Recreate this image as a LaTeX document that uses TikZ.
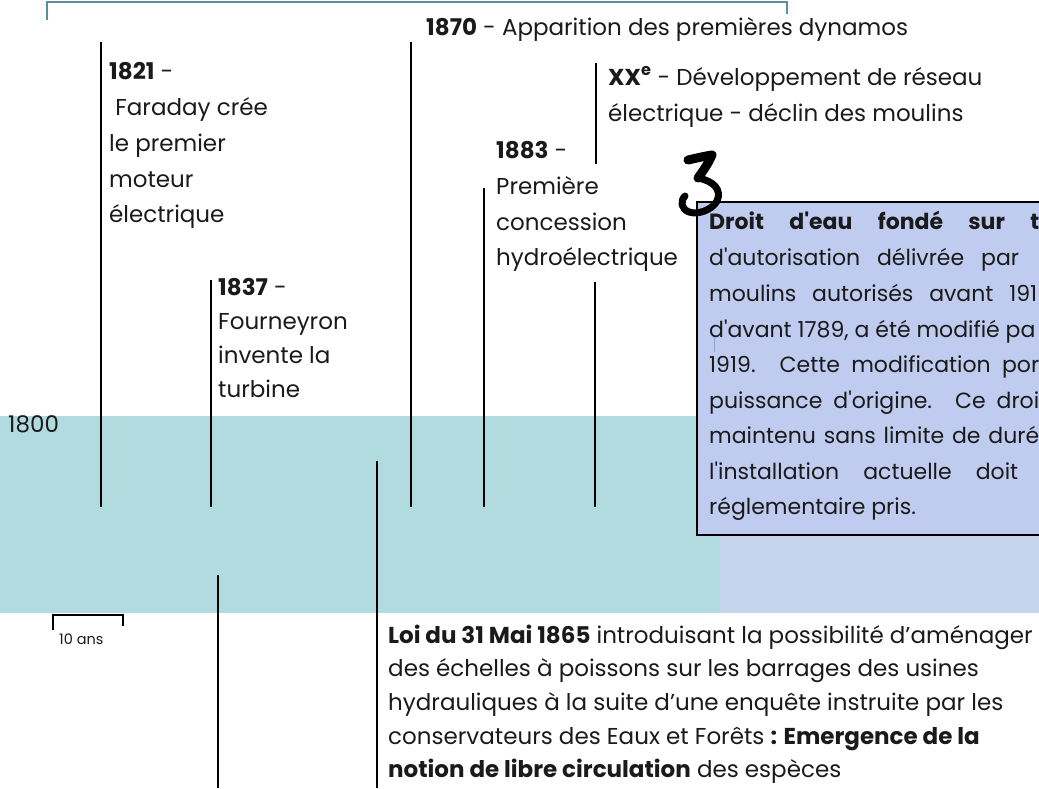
\documentclass[tikz,border=0pt]{standalone}
\usepackage{fontspec}
\setmainfont{Poppins}
\definecolor{band}{HTML}{B2DBDF}
\definecolor{bandr}{HTML}{C4D4EA}
\definecolor{boxfill}{HTML}{BFCBEF}
\definecolor{brk}{HTML}{5B8E9B}
\definecolor{ink}{HTML}{1A1A1A}
\definecolor{cursor}{HTML}{8FA0E0}
\newcommand{\ap}{\textquotesingle}
\begin{document}
\begin{tikzpicture}[x=1pt,y=-1pt,
  txt/.style={anchor=base west, inner sep=0pt, font=\fontsize{23}{27}\selectfont, text=ink},
  boxtxt/.style={anchor=base west, inner sep=0pt, font=\fontsize{22}{26}\selectfont, text=ink},
  small/.style={anchor=base west, inner sep=0pt, font=\fontsize{14.5}{17}\selectfont, text=ink},
  tick/.style={line width=1.6pt, black},
  bracket/.style={line width=1.6pt, brk}]
\useasboundingbox (0,0) rectangle (1039,788);
% background bands
\fill[band] (0,416) rectangle (720,613);
\fill[bandr] (720,416) rectangle (1039,613);
% top bracket
\coordinate (bl) at (47,20);
\coordinate (bltop) at (47,2);
\coordinate (brtop) at (787,2);
\coordinate (br) at (787,14);
\draw[bracket] (bl) -- (bltop) -- (brtop) -- (br);
% timeline ticks
\coordinate (a1) at (101,42);  \coordinate (a2) at (101,507);
\coordinate (b1) at (211,280); \coordinate (b2) at (211,507);
\coordinate (c1) at (218,575); \coordinate (c2) at (218,788);
\coordinate (d1) at (377,461); \coordinate (d2) at (377,788);
\coordinate (e1) at (411,42);  \coordinate (e2) at (411,507);
\coordinate (f1) at (484,188); \coordinate (f2) at (484,507);
\coordinate (g1) at (595,282); \coordinate (g2) at (595,507);
\coordinate (h1) at (596,63);  \coordinate (h2) at (596,164);
\foreach \p in {a,b,c,d,e,f,g,h} \draw[tick] (\p1) -- (\p2);
% scale bracket
\coordinate (s1) at (53,630); \coordinate (s2) at (53,615);
\coordinate (s3) at (123,615); \coordinate (s4) at (123,626);
\draw[line width=1.4pt, black] (s1) -- (s2) -- (s3) -- (s4);
\node[small] (dix) at (59,644) {10 ans};
% texts
\node[txt] (y1800) at (8,432) {1800};
\node[txt] (t1821a) at (109,79) {\textbf{1821} -};
\node[txt] (t1821b) at (109,115) {\ Faraday crée};
\node[txt] (t1821c) at (109,151) {le premier};
\node[txt] (t1821d) at (109,187) {moteur};
\node[txt] (t1821e) at (109,222) {électrique};
\node[txt] (t1837a) at (218,295) {\textbf{1837} -};
\node[txt] (t1837b) at (218,329) {Fourneyron};
\node[txt] (t1837c) at (218,363) {invente la};
\node[txt] (t1837d) at (218,397) {turbine};
\node[txt] (t1870) at (426,35) {\textbf{1870} - Apparition des premières dynamos};
\node[txt] (txxa) at (608,85) {\textbf{XX\textsuperscript{e}} - Développement de réseau};
\node[txt] (txxb) at (608,121) {électrique - déclin des moulins};
\node[txt] (t1883a) at (496,158) {\textbf{1883} -};
\node[txt] (t1883b) at (496,194) {Première};
\node[txt] (t1883c) at (496,230) {concession};
\node[txt] (t1883d) at (496,265) {hydroélectrique};
% box
\draw[line width=2.4pt, black, fill=boxfill] (697,202) rectangle (1050,535);
\node[boxtxt] (l1) at (709,229) {\makebox[330pt][s]{\textbf{Droit d\ap eau fondé sur t}}};
\node[boxtxt] (l2) at (709,265) {\makebox[310pt][s]{d\ap autorisation délivrée par}};
\node[boxtxt] (l3) at (709,301) {\makebox[328pt][s]{moulins autorisés avant 191}};
\node[boxtxt] (l4) at (709,337) {d\ap avant 1789, a été modifié pa};
\node[boxtxt] (l5) at (709,372) {\makebox[330pt][s]{1919. Cette modification por}};
\node[boxtxt] (l6) at (709,408) {\makebox[330pt][s]{puissance d\ap origine. Ce droi}};
\node[boxtxt] (l7) at (709,443) {\makebox[330pt][s]{maintenu sans limite de duré}};
\node[boxtxt] (l8) at (709,479) {\makebox[309pt][s]{l\ap installation actuelle doit}};
\node[boxtxt] (l9) at (709,514) {réglementaire pris.};
\coordinate (cu1) at (714,337); \coordinate (cu2) at (714,352);
\draw[cursor, line width=1pt] (cu1) -- (cu2);
% brush "3"
\draw[black, line width=9pt, line cap=round, line join=round]
  (688,160) .. controls (697,158) and (705,156) .. (712,155)
  .. controls (708,164) and (703,171) .. (698,178);
\draw[black, line width=7pt, line cap=round, line join=round]
  (698,178) .. controls (714,181) and (722,190) .. (717,201)
  .. controls (712,210) and (698,215) .. (689,212)
  .. controls (681,209) and (680,201) .. (685,196);
% bottom text
\node[txt] (m1) at (388,643) {\textbf{Loi du 31 Mai 1865} introduisant la possibilité d’aménager};
\node[txt] (m2) at (388,676) {des échelles à poissons sur les barrages des usines};
\node[txt] (m3) at (388,710) {hydrauliques à la suite d’une enquête instruite par les};
\node[txt] (m4) at (388,744) {conservateurs des Eaux et Forêts \textbf{: Emergence de la}};
\node[txt] (m5) at (388,777) {\textbf{notion de libre circulation} des espèces};
\end{tikzpicture}
\end{document}
